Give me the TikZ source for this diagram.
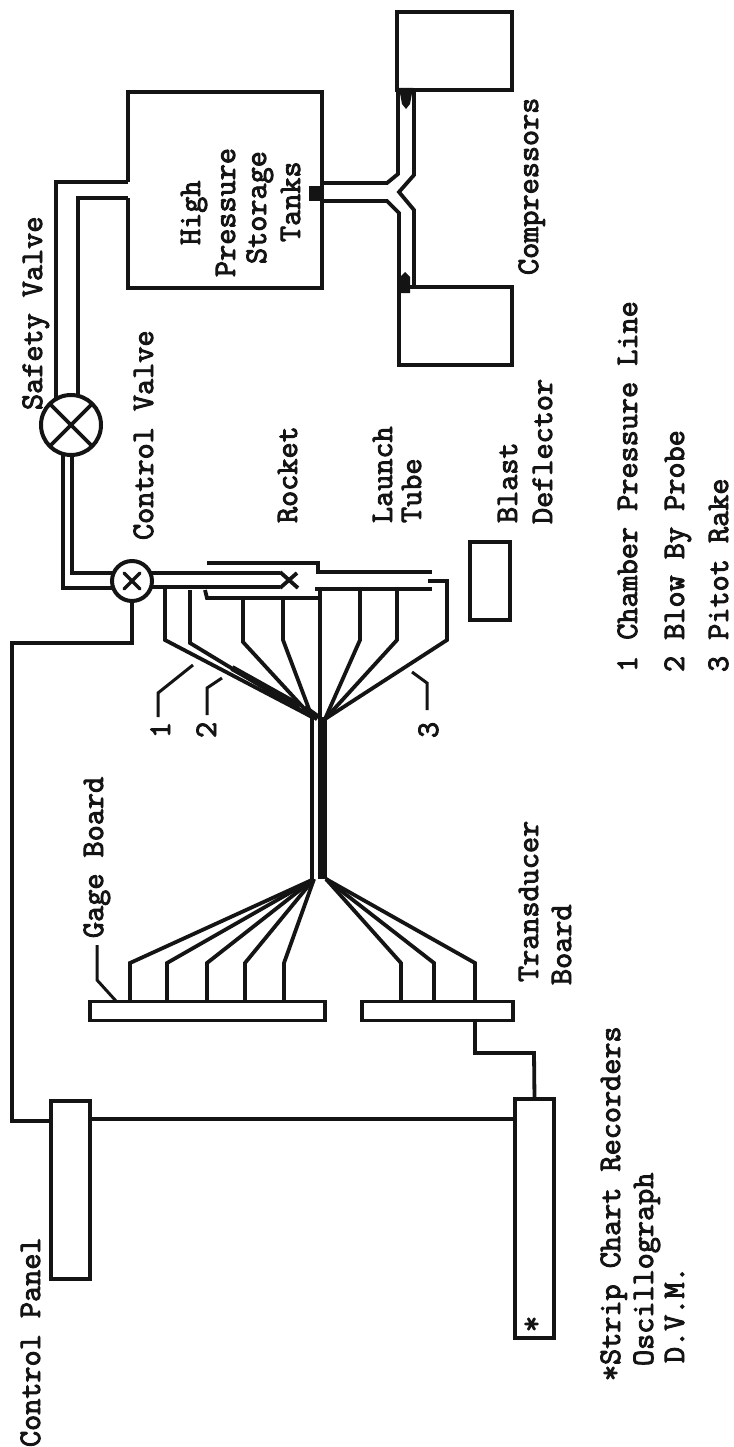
\documentclass[tikz,border=0pt]{standalone}
\usepackage{fontspec}
\usetikzlibrary{calc}
\newfontfamily\tw[FakeBold=3]{Latin Modern Mono}
\definecolor{ink}{HTML}{141414}
\tikzset{
  ln/.style={draw=ink,line width=3.8pt,line join=miter,line cap=butt},
  thin ln/.style={draw=ink,line width=3pt,line join=miter,line cap=butt},
  boxn/.style={draw=ink,line width=3.8pt,fill=white,rectangle,inner sep=0pt,outer sep=0pt},
  lab/.style={text=ink,rotate=90,anchor=base west,inner sep=0pt,outer sep=0pt,font=\tw\fontsize{31.3}{31.3}\selectfont},
  valve/.style={draw=ink,line width=4pt,fill=white,circle,inner sep=0pt,outer sep=0pt}
}
\begin{document}
\begin{tikzpicture}[x=1pt,y=-1pt]
\useasboundingbox (0,0) rectangle (733,1447);
\fill[white] (0,0) rectangle (733,1447);
% coordinates
\coordinate (hubA) at (312,717);
\coordinate (hubC) at (325,719);
\coordinate (hubB) at (314,879);
\coordinate (hubD) at (326,879);
% ---- tanks and compressors
\coordinate (tTL) at (128,92);\coordinate (tTR) at (322,92);
\coordinate (tBL) at (128,288);\coordinate (tBR) at (322,288);
\coordinate (tG1) at (128,182);\coordinate (tG2) at (128,198);
\draw[ln] (tG1) -- (tTL) -- (tTR) -- (tBR) -- (tBL) -- (tG2);
\node[boxn,minimum width=115pt,minimum height=78pt] (compA) at (454.5,51) {};
\node[boxn,minimum width=113pt,minimum height=78pt] (compB) at (455.5,326) {};
% safety line pipe
\coordinate (sv) at (71,425);
\draw[ln] (tG1) -- (56,182) -- (56,400);
\draw[ln] (tG2) -- (78,198) -- (78,400);
% Y junction
\coordinate (ty1) at (322,183);\coordinate (ty2) at (322,201);
\draw[ln] (ty1) -- (387,183) -- (398,174) -- (398,90);
\draw[ln] (414,90) -- (414,175) -- (399,192) -- (414,210) -- (414,287);
\draw[ln] (ty2) -- (387,201) -- (399,213) -- (399,287);
\fill[ink] (309,186) rectangle (323,201);
\fill[ink] (399,88) -- (413,88) -- (410,104) -- (406,109) -- (402,104) -- cycle;
\fill[ink] (399,293) -- (410,293) -- (410,277) -- (405,272) -- (400,277) -- cycle;
% pipe between valves
\coordinate (cv) at (132,581);
\draw[ln] (63,450) -- (63,588) -- (115,588);
\draw[ln] (72,450) -- (72,573) -- (115,573);
% safety valve
\node[valve,minimum size=60pt] (safety) at (sv) {};
\draw[line width=3.8pt,draw=ink] (safety.45) -- (safety.225) (safety.135) -- (safety.315);
% rocket and launch tube
\draw[ln] (140,573) -- (280,573);
\draw[ln] (140,587) -- (280,587);
\draw[ln] (280,572) -- (298,588);
\draw[ln] (280,588) -- (297,573);
\draw[ln] (207,563) -- (318,563) -- (318,572) -- (432,572);
\draw[ln] (205,590) -- (207,598) -- (320,598);
\draw[ln] (315,589) -- (432,589);
% wires
\draw[ln] (165,587) -- (165,640) -- (hubA);
\draw[ln] (190,590) -- (190,643) -- (hubA);
\draw[ln] (243,598) -- (243,642) -- (hubA);
\draw[ln] (283,598) -- (283,640) -- (hubA);
\draw[ln] (320,589) -- (320,717);
\draw[ln] (360,589) -- (360,640) -- (hubC);
\draw[ln] (397,589) -- (397,640) -- (hubC);
\draw[ln] (428,581) -- (447,581) -- (447,640) -- (hubC);
\draw[line width=7pt,draw=ink] (304,708) -- (318,718);
\draw[line width=6pt,draw=ink] (232,668) -- (300,706);
\draw[thin ln] (193,665) -- (158,693) -- (158,717);
\draw[thin ln] (222,678) -- (207,688) -- (207,715);
\draw[thin ln] (412,672) -- (427,683) -- (427,710);
% control valve
\node[valve,minimum size=40pt] (control) at (cv) {};
\draw[line width=3.4pt,draw=ink,line cap=round] ($(cv)+(-8,-8)$) -- ($(cv)+(8,8)$) ($(cv)+(-8,8)$) -- ($(cv)+(8,-8)$);
% bundle
\draw[ln] (312,717) -- (312,879);
\fill[ink] (318,717) rectangle (327,879);
% gage and transducer boards
\node[boxn,minimum width=235pt,minimum height=19pt] (gage) at (207.5,1011) {};
\node[boxn,minimum width=151pt,minimum height=19pt] (trans) at (437.5,1011) {};
\foreach \xx in {130,167,207,245,284}{\draw[ln] (\xx,1001) -- (\xx,963) -- (hubB);}
\foreach \xx in {401,434,475}{\draw[ln] (\xx,1001) -- (\xx,963) -- (hubD);}
\draw[thin ln] (97,945) -- (97,980) -- (116,1001);
% recorder, panel
\node[boxn,minimum width=39pt,minimum height=239pt] (rec) at (534.5,1218.5) {};
\node[boxn,minimum width=39pt,minimum height=178pt] (panel) at (70.5,1190) {};
\draw[ln] (475,1021) -- (475,1053) -- (534,1053) -- (rec.north);
\draw[ln] (panel.east |- 0,1119) -- (rec.west |- 0,1119);
\draw[ln] (control.south) -- (132,643) -- (12,643) -- (12,1121) -- (panel.west |- 0,1121);
% blast deflector
\node[boxn,minimum width=40pt,minimum height=78pt] (blast) at (490,581) {};
% labels
\node[lab] (tSV) at (42,410) {Safety Valve};
\node[lab] (tCV) at (153,540) {Control Valve};
\node[lab] (tHi) at (200,245) {High};
\node[lab] (tPr) at (235,277) {Pressure};
\node[lab] (tSt) at (266,264) {Storage};
\node[lab] (tTa) at (300,242) {Tanks};
\node[lab] (tCo) at (538,275) {Compressors};
\node[lab] (tRo) at (297,523) {Rocket};
\node[lab] (tLa) at (392,523) {Launch};
\node[lab] (tTu) at (421,523) {Tube};
\node[lab] (tBl) at (517,523) {Blast};
\node[lab] (tDe) at (552,524) {Deflector};
\node[lab] (tL1) at (637,672) {1 Chamber Pressure Line};
\node[lab] (tL2) at (684,672) {2 Blow By Probe};
\node[lab] (tL3) at (728,672) {3 Pitot Rake};
\node[lab] (n1) at (170,738) {1};
\node[lab] (n2) at (216,738) {2};
\node[lab] (n3) at (438,738) {3};
\node[lab] (tGa) at (103,938) {Gage Board};
\node[lab] (tTr) at (538,982) {Transducer};
\node[lab] (tBo) at (571,985) {Board};
\node[lab] (tSC) at (620,1381) {*Strip Chart Recorders};
\node[lab] (tOs) at (653,1366) {Oscillograph};
\node[lab] (tDV) at (684,1363) {D.V.M.};
\node[lab] (tCP) at (40,1447) {Control Panel};
\node[lab] (tSt2) at (541,1332) {*};
\end{tikzpicture}
\end{document}
